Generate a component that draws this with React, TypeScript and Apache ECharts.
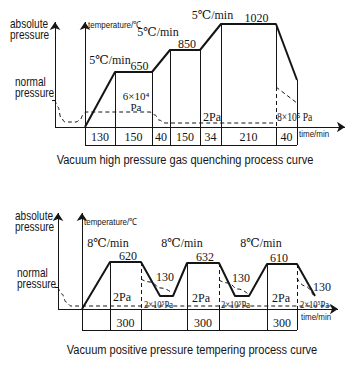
import React, { useEffect, useRef } from 'react';
import * as echarts from 'echarts';

// ---------- Top: vacuum high pressure gas quenching ----------
const quenchMinutes = [130, 150, 40, 150, 34, 210, 40];
const quenchSpan = [30, 37, 18, 30, 21, 55, 21]; // schematic column widths
const quenchLevel = [0, 55, 55, 77, 77, 103, 103, 47]; // schematic curve height at each boundary
const quenchHoldTemps = [650, 850, 1020];
const quenchHoldSegments = [1, 3, 5];
const quenchRates = ['5℃/min', '5℃/min', '5℃/min'];
const quenchRampSegments = [0, 2, 4];
const quenchPressure = [
  [0, 27], [3, 20], [6, 9], [10, 5], [21, 5], [25, 7], [28, 12], [31, 15],
  [95, 15], [100, 12], [104, 7], [110, 4], [221, 4],
];

// ---------- Bottom: vacuum positive pressure tempering ----------
const temperMinutes = [300, 300, 300];
const temperSpan = [28, 31, 19, 13, 14, 32, 16, 14, 18, 30, 18];
const temperLevel = [0, 47, 47, 13, 13, 46, 46, 13, 13, 45, 45, 13];
const temperHoldTemps = [620, 632, 610];
const temperHoldSegments = [1, 5, 9];
const temperValleyTemps = [130, 130, 130];
const temperCoolSegments = [2, 6, 10];
const temperRates = ['8℃/min', '8℃/min', '8℃/min'];
const temperRampSegments = [0, 4, 8];
const temperPressure = [[0, 22], [4, 15], [8, 7], [13, 3], [274, 3]];
const temperCoolPressure = [
  [[83, 30], [92, 27], [103, 21], [114, 16]],
  [[161, 29], [170, 26], [180, 20], [190, 15]],
  [[239, 31], [247, 23], [255, 14]],
];

// ---------- layout ----------
const TOP = { left: 55, baseY: 127, yMax: 115, yMin: -20, xMax: 290, origin: 30, table: -18, labelY: -10, axisTop: 105 };
const BOT = { left: 58, baseY: 309, yMax: 96, yMin: -24, xMax: 282, origin: 24, table: -21, labelY: -14, axisTop: 96 };
const qHoldDx = [6, 2, 8];
const qRateOff = [[10, 12], [-3, 18], [2, 9]];
const tHoldDx = [2.5, 2, -3];
const tValleyOff = [[5, 19], [6, 18], [7, 9]];
const tRateOff = [[12, 19], [2, 20], [3, 21]];

const ink = '#151515';
const serif = '"Liberation Serif","DejaVu Serif",serif';
const sans = '"Liberation Sans",Arial,sans-serif';
const NARROW = 0.84;

function cum(origin: number, spans: number[]) {
  const xs = [origin];
  spans.forEach((s) => xs.push(xs[xs.length - 1] + s));
  return xs;
}
const qx = cum(TOP.origin, quenchSpan);
const tx = cum(BOT.origin, temperSpan);

function gridOf(L: any) {
  return { left: L.left - 10, top: L.baseY - L.yMax, width: L.xMax + 10, height: L.yMax - L.yMin, containLabel: false };
}

function labelSeries(gi: number, items: any[], fontSize = 12) {
  return {
    type: 'scatter', xAxisIndex: gi, yAxisIndex: gi, symbolSize: 0, silent: true, clip: false,
    itemStyle: { color: ink, opacity: 1 },
    data: items.map((it) => ({
      value: [it.x, it.y],
      label: {
        show: true, formatter: String(it.text), position: 'inside', fontFamily: serif,
        fontSize, color: ink, align: 'center', verticalAlign: 'middle',
        textBorderWidth: 0, textBorderColor: 'transparent', opacity: 1,
      },
    })),
  };
}

function seg(coords: number[][], dashed = false) {
  return { coords, lineStyle: { type: dashed ? [4, 3] : 'solid', width: 1, color: ink } };
}

function linesSeries(gi: number, data: any[], arrow = false) {
  return {
    type: 'lines', coordinateSystem: 'cartesian2d', xAxisIndex: gi, yAxisIndex: gi, silent: true,
    polyline: false, symbol: arrow ? ['none', 'arrow'] : ['none', 'none'], symbolSize: arrow ? [5, 8] : 0,
    lineStyle: { color: ink, width: 1, opacity: 1 }, data,
  };
}

function curve(gi: number, data: number[][], width: number, dashed: boolean, smooth: any = false) {
  return {
    type: 'line', xAxisIndex: gi, yAxisIndex: gi, data, symbol: 'none', silent: true, clip: false,
    smooth, smoothMonotone: 'x',
    lineStyle: { color: ink, width, type: dashed ? [4, 3] : 'solid' },
  };
}

function txt(text: string, x: number, y: number, size: number, family: string, align = 'left', sx = 1) {
  return {
    type: 'text', silent: true, x, y, scaleX: sx,
    style: { text, x: 0, y: 0, fill: ink, font: `${size}px ${family}`, textAlign: align, textVerticalAlign: 'middle' },
  };
}

function buildOption() {
  // ---- top ----
  const qTemp = qx.map((x, i) => [x, quenchLevel[i]]);
  const qDiv: any[] = [];
  for (let i = 1; i < qx.length; i++) {
    if (i === 6) {
      qDiv.push(seg([[qx[i], quenchLevel[i]], [qx[i], 40]]));
      qDiv.push(seg([[qx[i], 40], [qx[i], 0]], true));
      qDiv.push(seg([[qx[i], 0], [qx[i], TOP.table]]));
    } else {
      qDiv.push(seg([[qx[i], quenchLevel[i]], [qx[i], TOP.table]]));
    }
  }
  qDiv.push(seg([[qx[0], TOP.table], [qx[qx.length - 1], TOP.table]]));
  qDiv.push(seg([[-3, 27], [0, 27]]));
  qDiv.push(seg([[qx[6], 40], [qx[7], 24]], true));
  const qArrows = [
    seg([[0, 0], [TOP.xMax, 0]]),
    seg([[0, 0], [0, TOP.axisTop]]),
    seg([[TOP.origin, TOP.table], [TOP.origin, TOP.axisTop]]),
  ];
  const qLabels = quenchMinutes.map((m, i) => ({ x: (qx[i] + qx[i + 1]) / 2, y: TOP.labelY, text: m }));
  const qHolds = quenchHoldSegments.map((s, k) => ({
    x: (qx[s] + qx[s + 1]) / 2 + qHoldDx[k], y: quenchLevel[s + 1] + 6, text: quenchHoldTemps[k],
  }));
  const qRates = quenchRampSegments.map((s, k) => ({
    x: (qx[s] + qx[s + 1]) / 2 + qRateOff[k][0], y: quenchLevel[s + 1] + qRateOff[k][1], text: quenchRates[k],
  }));

  // ---- bottom ----
  const tTemp = tx.map((x, i) => [x, temperLevel[i]]);
  const tDiv: any[] = [];
  temperHoldSegments.forEach((s) => {
    tDiv.push(seg([[tx[s], temperLevel[s]], [tx[s], BOT.table]]));
    tDiv.push(seg([[tx[s + 1], temperLevel[s + 1]], [tx[s + 1], 0]], true));
    tDiv.push(seg([[tx[s + 1], 0], [tx[s + 1], BOT.table]]));
  });
  tDiv.push(seg([[tx[0], BOT.table], [tx[tx.length - 2], BOT.table]]));
  tDiv.push(seg([[-3, 22], [0, 22]]));
  const tArrows = [
    seg([[0, 0], [BOT.xMax - 2, 0]]),
    seg([[0, 0], [0, BOT.axisTop]]),
    seg([[BOT.origin, BOT.table], [BOT.origin, BOT.axisTop]]),
  ];
  const tLabels = temperHoldSegments.map((s, k) => ({ x: (tx[s] + tx[s + 1]) / 2, y: BOT.labelY, text: temperMinutes[k] }));
  const tHolds = temperHoldSegments.map((s, k) => ({
    x: (tx[s] + tx[s + 1]) / 2 + tHoldDx[k], y: temperLevel[s + 1] + 6, text: temperHoldTemps[k],
  }));
  const tValleys = temperCoolSegments.map((s, k) => ({
    x: tx[s + 1] + tValleyOff[k][0], y: temperLevel[s + 1] + tValleyOff[k][1], text: temperValleyTemps[k],
  }));
  const tRates = temperRampSegments.map((s, k) => ({
    x: (tx[s] + tx[s + 1]) / 2 + tRateOff[k][0], y: temperLevel[s + 1] + tRateOff[k][1], text: temperRates[k],
  }));

  const axisPair = (L: any, gi: number) => ({
    x: { type: 'value', gridIndex: gi, min: -10, max: L.xMax, show: false },
    y: { type: 'value', gridIndex: gi, min: L.yMin, max: L.yMax, show: false },
  });
  const a0 = axisPair(TOP, 0);
  const a1 = axisPair(BOT, 1);

  return {
    animation: false,
    backgroundColor: '#ffffff',
    grid: [gridOf(TOP), gridOf(BOT)],
    xAxis: [a0.x, a1.x],
    yAxis: [a0.y, a1.y],
    graphic: [
      txt('absolute', 10, 24, 12, sans, 'left', NARROW), txt('pressure', 10, 35, 12, sans, 'left', NARROW),
      txt('normal', 15, 82, 12, sans, 'left', NARROW), txt('pressure', 15, 93, 12, sans, 'left', NARROW),
      txt('temperature/℃', 88, 25, 9.5, sans, 'left', NARROW),
      txt('6×10⁴', 136, 95.5, 11, serif, 'center'), txt('Pa', 136, 107, 11, serif, 'center'),
      txt('2Pa', 203, 117, 12, serif),
      txt('8×10⁵ Pa', 277, 117, 11.5, serif, 'left', 0.84),
      txt('time/min', 299, 134, 9.5, sans, 'left', NARROW),
      txt('Vacuum high pressure gas quenching process curve', 185, 160, 13.5, sans, 'center', 0.82),

      txt('absolute', 15, 216, 12, sans, 'left', NARROW), txt('pressure', 15, 227, 12, sans, 'left', NARROW),
      txt('normal', 17, 273, 12, sans, 'left', NARROW), txt('pressure', 17, 284, 12, sans, 'left', NARROW),
      txt('temperature/℃', 84, 222, 9.5, sans, 'left', NARROW),
      txt('2Pa', 122, 297, 12, serif, 'center'), txt('2Pa', 201, 298, 12, serif, 'center'), txt('2Pa', 281, 298, 12, serif, 'center'),
      txt('2×10⁵Pa', 144, 305, 10, serif, 'left', 0.85), txt('2×10⁵Pa', 221, 305, 10, serif, 'left', 0.85),
      txt('2×10⁵Pa', 300, 305, 10, serif, 'left', 0.85),
      txt('time/min', 301, 317, 9.5, sans, 'left', NARROW),
      txt('Vacuum positive pressure tempering process curve', 192, 350, 13.5, sans, 'center', 0.82),
    ],
    series: [
      curve(0, qTemp, 2, false),
      curve(0, quenchPressure, 1, true, 0.4),
      linesSeries(0, qDiv),
      linesSeries(0, qArrows, true),
      labelSeries(0, qLabels),
      labelSeries(0, qHolds),
      labelSeries(0, qRates),

      curve(1, tTemp, 2, false),
      curve(1, temperPressure, 1, true, 0.4),
      ...temperCoolPressure.map((c) => curve(1, c, 1, true, 0.5)),
      linesSeries(1, tDiv),
      linesSeries(1, tArrows, true),
      labelSeries(1, tLabels),
      labelSeries(1, tHolds),
      labelSeries(1, tValleys),
      labelSeries(1, tRates),
    ],
  };
}

export default function App() {
  const ref = useRef<HTMLDivElement>(null);
  useEffect(() => {
    if (!ref.current) return;
    const chart = echarts.init(ref.current, undefined, { renderer: 'svg' });
    chart.setOption(buildOption() as any);
    return () => chart.dispose();
  }, []);
  return (
    <div
      ref={ref}
      style={{ position: 'absolute', left: 0, top: 0, width: 353, height: 378, background: '#fff' }}
    />
  );
}
